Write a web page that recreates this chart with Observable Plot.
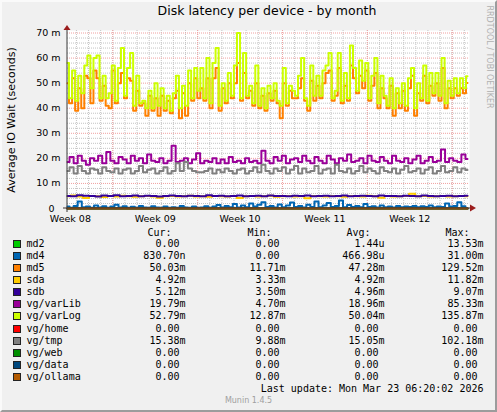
<!DOCTYPE html>
<html><head><meta charset="utf-8">
<script src="https://cdn.jsdelivr.net/npm/d3@7"></script>
<script src="https://cdn.jsdelivr.net/npm/@observablehq/plot@0.6"></script>
<style>
html,body{margin:0;padding:0;}
body{width:497px;height:412px;overflow:hidden;background:#f0f0f0;position:relative;font-family:"DejaVu Sans",sans-serif;}
#border{position:absolute;left:0;top:0;width:497px;height:412px;box-sizing:border-box;border:2px solid;border-color:#fafafa #9c9c9c #9c9c9c #fafafa;pointer-events:none;}
#chart{position:absolute;left:0;top:0;}
.abs{position:absolute;white-space:pre;}
#title{left:67px;width:400px;top:3px;text-align:center;font-size:12.5px;color:#000;}
#ylab{left:11px;top:120px;font-size:11px;transform:translate(-50%,-50%) rotate(-90deg);color:#000;}
#rrd{left:488.5px;top:56.5px;font-size:8px;color:#b0b0b0;transform:translate(-50%,-50%) rotate(90deg);}
.mono{font-family:"DejaVu Sans Mono",monospace;font-size:10px;line-height:12px;height:12px;color:#000;}
.box{position:absolute;width:6px;height:6px;border:1px solid #222;}
#munin{left:0;width:497px;text-align:center;top:396px;font-size:8px;color:#a0a0a0;}
</style>
</head><body>
<div id="chart"></div>
<div id="title" class="abs">Disk latency per device - by month</div>
<div id="ylab" class="abs">Average IO Wait (seconds)</div>
<div id="rrd" class="abs">RRDTOOL / TOBI OETIKER</div>
<div id="legend"></div>
<div id="munin" class="abs">Munin 1.4.5</div>
<div id="border"></div>
<script>
// ---- data (values in milliseconds, "m") ----
const lastUpdate = "Mon Mar 23 06:20:02 2026";
const yTicks = [0, 10, 20, 30, 40, 50, 60, 70];
const weekLabels = ["Week 08", "Week 09", "Week 10", "Week 11", "Week 12"];

const md2 = [0, 0];
const md4 = [0.8,0.3,1.0,2.8,0.5,0.8,0.3,1.2,0.4,0.9,0.3,0.8,1.5,0.4,0.9,0.3,0.7,0.3,1.0,0.4,0.3,0.9,0.4,0.3,0.8,0.3,0.5,0.3,1.0,0.4,0.3,0.8,0.3,0.4,0.9,0.3,0.8,1.4,0.4,1.0,0.5,1.8,0.4,1.2,0.5,2.0,0.8,1.5,2.5,0.6,1.0,0.4,1.6,0.5,1.2,2.4,0.6,1.0,0.4,1.5,0.6,2.8,0.5,1.2,2.2,0.6,1.0,3.2,0.5,1.4,0.6,1.0,0.5,1.8,0.6,0.9,0.4,1.2,0.5,0.8,0.4,1.0,0.5,0.8,0.6,1.0,0.5,0.9,0.6,1.2,0.5,0.8,0.6,2.0,0.8,1.0,2.5,0.9,0.0008];
const md5 = [50,42,52,39,48,40,53,52,42,55,52,43,49,41,40,55,42,50,54,44,52,51,39,47,41,42,37,45,39,44,37,45,39,43,38,44,47,36,46,37,50,43,52,44,48,43,52,40,52,56,39,48,42,50,44,50,58,43,54,44,47,41,50,40,45,39,46,43,47,42,36,50,41,47,44,44,48,52,43,39,51,43,49,44,50,54,55,43,45,56,42,49,43,57,52,46,53,48,55,43,49,54,40,48,44,40,49,37,46,40,47,39,48,53,37,46,43,53,42,49,45,50,43,56,40,48,44,48,45,48,46,50.03];
const sda = [4.9,5.2,4.8,4.2,5.0,4.9,4.6,5.0,4.8,5.1,4.9,4.7,4.9,5.0,4.8,4.3,4.9,5.0,4.8,4.9,5.1,4.8,4.9,4.7,5.0,4.9,4.8,5.0,4.2,4.9,5.0,4.8,4.9,5.1,4.7,4.9,5.0,4.8,4.9,4.1,5.0,4.9,4.8,5.0,4.9,4.7,5.0,4.9,4.8,5.1,4.9,4.3,5.0,4.8,4.9,5.0,5.9,4.9,5.0,4.8,4.9,5.0,4.8,4.9,5.0,4.92];
const sdb = [5.0,4.9,5.3,5.1,5.0,4.8,5.2,5.0,5.3,4.9,5.0,5.2,4.9,5.1,5.0,4.8,5.0,5.2,5.0,4.9,5.1,5.0,4.9,5.3,5.0,5.1,4.9,5.0,5.2,4.9,5.0,5.1,4.9,5.2,5.0,5.0,4.9,5.1,5.0,5.2,4.9,5.0,5.1,4.9,5.0,5.2,4.9,5.0,5.1,5.0,4.9,5.2,5.0,5.0,4.9,5.1,5.0,4.9,5.2,5.0,4.9,5.0,5.1,4.9,5.0,5.12];
const varLib = [18.5,20.5,18,21,19,17.5,20,19,21,18,22.5,19,18,20.5,19.5,18,21,19,20,18,21.5,19,18.5,20,18,19,25,18.5,19,20,18,19.5,22,18,19,18.5,20,18,19.5,18,20.5,18.5,19,18,20,18.5,19,18,23,19,18,20.5,19,21,18,19.5,20,18.5,21,19,18,20.5,19,18,21,19.5,18,20,19,21.5,18.5,19,20,18,21,19,18.5,20.5,19,18,21,19,18.5,20,18,19.5,21,18,19,20.5,18.5,19,23.5,18.5,20,19,18.5,21.5,19.79];
const varLog = [58,44,55,43,53,46,57,61,48,60,61,44,53,44,46,57,43,56,64,45,56,62,41,53,42,43,40,47,40,50,41,48,40,45,39,46,53,40,49,41,55,44,56,47,56,44,60,42,58,64,41,50,43,54,45,57,70,44,62,45,49,42,57,41,48,40,49,44,50,43,41,56,42,49,47,45,53,60,44,41,57,45,53,45,55,57,62,44,47,62,43,54,44,65,56,47,59,51,58,44,53,60,42,53,45,41,52,40,48,42,50,41,52,56,40,50,44,57,43,54,46,54,45,60,42,51,45,52,46,52,48,52.79];
const home = [0, 0];
const tmp = [15,16.5,14,17,15,14,16,15.5,14,16.5,15,14.5,16,14,15.5,16,14,15,17,14.5,15.5,16,14,15,16.5,14,15,18,15,18.5,16,15,14.5,14.5,15,16,14,15.5,14.5,16,15,14,15.5,16,14,15,16.5,14.5,17.5,15,14,16,15,16.5,14,15.5,17,14,16,14.5,15,17,14,15.5,16,14,17.5,15,14.5,16,14,15,17,14.5,16,15,14,16.5,15,14.5,16,14,15.5,17,14.5,15,16,14,15.5,16.5,14,15,17,14.5,15,16.5,14.5,16,15.38];
const web = [0, 0];
const dataVg = [0, 0];
const ollama = [0, 0];

const names   = ["md2","md4","md5","sda","sdb","vg/varLib","vg/varLog","vg/home","vg/tmp","vg/web","vg/data","vg/ollama"];
const colors  = ["#00CC00","#0066B3","#FF8000","#FFCC00","#330099","#990099","#CCFF00","#FF0000","#808080","#008F00","#00487D","#B35A00"];
const curVals = ["0.00 ","830.70n","50.03m","4.92m","5.12m","19.79m","52.79m","0.00 ","15.38m","0.00 ","0.00 ","0.00 "];
const minVals = ["0.00 ","0.00 ","11.71m","3.33m","3.50m","4.70m","12.87m","0.00 ","9.88m","0.00 ","0.00 ","0.00 "];
const avgVals = ["1.44u","466.98u","47.28m","4.92m","4.96m","18.96m","50.04m","0.00 ","15.05m","0.00 ","0.00 ","0.00 "];
const maxVals = ["13.53m","31.00m","129.52m","11.82m","9.07m","85.33m","135.87m","0.00 ","102.18m","0.00 ","0.00 ","0.00 "];
const seriesVals = [md2, md4, md5, sda, sdb, varLib, varLog, home, tmp, web, dataVg, ollama];

// ---- time domain (33 days ending at last update) ----
const tEnd = new Date(Date.UTC(2026, 2, 23, 6, 20, 2));
const span = 33 * 86400000;
const tStart = new Date(+tEnd - span);

function toRows(vals) {
  const n = vals.length;
  return vals.map((v, i) => ({t: new Date(+tStart + i * span / (n - 1)), v}));
}

const dayLines = d3.utcDay.range(d3.utcDay.ceil(tStart), tEnd);
const weekLines = d3.utcSunday.range(d3.utcSunday.ceil(tStart), tEnd);
const weekCenters = d3.utcSunday.range(d3.utcSunday.floor(tStart), tEnd)
  .map(d => d3.utcHour.offset(d, 84)).filter(d => d >= tStart && d <= tEnd);
const minorY = d3.range(2, 71, 2).filter(v => v % 10 !== 0);

const lineMarks = seriesVals.map((vals, k) =>
  Plot.line(toRows(vals), {x: "t", y: "v", stroke: colors[k], strokeWidth: 2, curve: "step"}));

const chart = Plot.plot({
  width: 497, height: 232,
  marginLeft: 67, marginRight: 28, marginTop: 30, marginBottom: 24,
  style: {background: "transparent", fontFamily: "DejaVu Sans", fontSize: "9.5px", color: "#000", overflow: "visible"},
  x: {type: "utc", domain: [tStart, tEnd], range: [67, 467]},
  y: {domain: [0, 71]},
  marks: [
    Plot.frame({fill: "white", stroke: "none"}),
    Plot.ruleY(minorY, {stroke: "#c4c4c4", strokeDasharray: "1,1", strokeWidth: 1}),
    Plot.ruleX(dayLines, {stroke: "#c4c4c4", strokeDasharray: "1,1", strokeWidth: 1}),
    Plot.ruleY(yTicks.filter(v => v > 0), {stroke: "#f0a0a0", strokeDasharray: "1,1", strokeWidth: 1}),
    Plot.ruleX(weekLines, {stroke: "#f0a0a0", strokeDasharray: "1,1", strokeWidth: 1}),
    ...lineMarks,
    Plot.axisY({ticks: yTicks.filter(v => v > 0), tickSize: 0, tickPadding: 7, tickFormat: d => d + " m", label: null}),
    Plot.axisY({ticks: yTicks.filter(v => v === 0), tickSize: 0, tickPadding: 13, tickFormat: d => String(d), label: null}),
    Plot.axisX({ticks: weekCenters, tickSize: 0, tickPadding: 6.5, tickFormat: (d, i) => weekLabels[i], label: null})
  ]
});
document.getElementById("chart").appendChild(chart);

// axis lines and arrows (positioned via the scales)
const X = chart.scale("x"), Y = chart.scale("y");
const svg = d3.select(chart);
const x0 = X.apply(tStart), xE = X.apply(tEnd), y0 = Y.apply(0), yT = Y.apply(71);
svg.append("line").attr("x1", x0 - 4).attr("x2", xE + 3).attr("y1", y0).attr("y2", y0).attr("stroke", "#3a3030").attr("stroke-width", 1);
svg.append("line").attr("x1", x0).attr("x2", x0).attr("y1", y0 + 4).attr("y2", yT).attr("stroke", "#3a3a3a").attr("stroke-width", 1);
svg.append("path").attr("d", `M${x0 - 3.5},${yT} L${x0 + 3.5},${yT} L${x0},${yT - 5} Z`).attr("fill", "#9b1c1c");
svg.append("path").attr("d", `M${xE + 3},${y0 - 3.5} L${xE + 3},${y0 + 3.5} L${xE + 9},${y0} Z`).attr("fill", "#9b1c1c");

// legend
const legend = document.getElementById("legend");
function addText(txt, left, right, centerY) {
  const d = document.createElement("div");
  d.className = "abs mono";
  d.textContent = txt;
  d.style.top = (centerY - 6) + "px";
  if (left != null) d.style.left = left + "px";
  if (right != null) { d.style.right = (497 - right) + "px"; d.style.textAlign = "right"; }
  legend.appendChild(d);
}
addText("Cur:", null, 171.5, 233.3);
addText("Min:", null, 271.5, 233.3);
addText("Avg:", null, 370.5, 233.3);
addText("Max:", null, 469.5, 233.3);
names.forEach((nm, i) => {
  const cy = 244.3 + i * 12.03;
  const b = document.createElement("div");
  b.className = "box";
  b.style.left = "13px"; b.style.top = (cy - 4) + "px";
  b.style.background = colors[i];
  legend.appendChild(b);
  addText(nm, 26.5, null, cy);
  addText(curVals[i], null, 185.5, cy);
  addText(minVals[i], null, 285.5, cy);
  addText(avgVals[i], null, 384.5, cy);
  addText(maxVals[i], null, 483.5, cy);
});
addText("Last update: " + lastUpdate, null, 483.5, 389);
</script>
</body></html>
